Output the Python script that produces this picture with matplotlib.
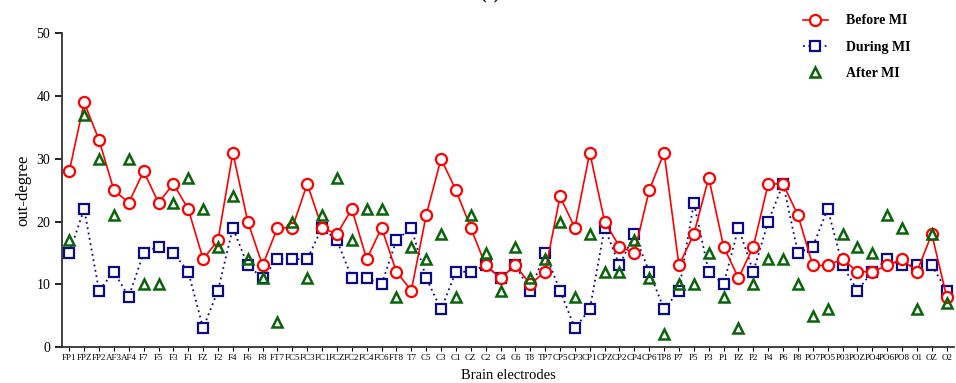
import numpy as np
import matplotlib.pyplot as plt

electrodes = ["FP1", "FPZ", "FP2", "AF3", "AF4", "F7", "F5", "F3", "F1", "FZ",
              "F2", "F4", "F6", "F8", "FT7", "FC5", "FC3", "FC1", "FCZ", "FC2",
              "FC4", "FC6", "FT8", "T7", "C5", "C3", "C1", "CZ", "C2", "C4",
              "C6", "T8", "TP7", "CP5", "CP3", "CP1", "CPZ", "CP2", "CP4", "CP6",
              "TP8", "P7", "P5", "P3", "P1", "PZ", "P2", "P4", "P6", "P8",
              "PO7", "PO5", "P03", "POZ", "PO4", "PO6", "PO8", "O1", "OZ", "O2"]

before_mi = [28, 39, 33, 25, 23, 28, 23, 26, 22, 14,
             17, 31, 20, 13, 19, 19, 26, 19, 18, 22,
             14, 19, 12, 9, 21, 30, 25, 19, 13, 11,
             13, 10, 12, 24, 19, 31, 20, 16, 15, 25,
             31, 13, 18, 27, 16, 11, 16, 26, 26, 21,
             13, 13, 14, 12, 12, 13, 14, 12, 18, 8]

during_mi = [15, 22, 9, 12, 8, 15, 16, 15, 12, 3,
             9, 19, 13, 11, 14, 14, 14, 19, 17, 11,
             11, 10, 17, 19, 11, 6, 12, 12, 13, 11,
             13, 9, 15, 9, 3, 6, 19, 13, 18, 12,
             6, 9, 23, 12, 10, 19, 12, 20, 26, 15,
             16, 22, 13, 9, 12, 14, 13, 13, 13, 9]

after_mi = [17, 37, 30, 21, 30, 10, 10, 23, 27, 22,
            16, 24, 14, 11, 4, 20, 11, 21, 27, 17,
            22, 22, 8, 16, 14, 18, 8, 21, 15, 9,
            16, 11, 14, 20, 8, 18, 12, 12, 17, 11,
            2, 10, 10, 15, 8, 3, 10, 14, 14, 10,
            5, 6, 18, 16, 15, 21, 19, 6, 18, 7]

serif = ["Liberation Serif", "DejaVu Serif"]
plt.rcParams['font.family'] = serif

fig = plt.figure(figsize=(9.56, 3.83), dpi=100)
ax = fig.add_axes([0.065, 0.094, 0.933, 0.819])

x = np.arange(len(electrodes))
ax.plot(x, before_mi, color="red", lw=1.2, marker="o", ms=8,
        mfc="white", mec="red", mew=1.6, label="Before MI", zorder=3)
ax.plot(x, during_mi, color="#0b0b8a", lw=1.3, ls=(0, (1, 2)), marker="s", ms=7.5,
        mfc="white", mec="#0b0b8a", mew=1.6, label="During MI", zorder=2)
ax.plot(x, after_mi, ls="none", marker="^", ms=7.5,
        mfc="none", mec="#0a640a", mew=1.8, label="After MI", zorder=4)

ax.set_xlim(-0.48, 59.5)
ax.set_ylim(0, 50)
ax.set_yticks(np.arange(0, 51, 10))
ax.set_xticks(x)
ax.set_xticklabels(electrodes, fontsize=6.5)
ax.tick_params(axis="y", labelsize=10, length=5, width=1.2, direction="out")
ax.tick_params(axis="x", length=3, width=0.8, direction="out", pad=2)
for s in ["top", "right"]:
    ax.spines[s].set_visible(False)
for s in ["left", "bottom"]:
    ax.spines[s].set_linewidth(1.3)
    ax.spines[s].set_color("#333333")

ax.set_xlabel("Brain electrodes", fontsize=10.5, labelpad=5)
ax.set_ylabel("out-degree", fontsize=12, labelpad=4)

ax.legend(loc="upper right", bbox_to_anchor=(0.965, 1.1), frameon=False,
          prop={"family": serif, "weight": "bold", "size": 10},
          handlelength=1.8, labelspacing=0.95, handletextpad=1.3)

fig.text(0.513, 1.012, "(a)", ha="center", va="center", fontsize=12, fontweight="bold")

fig.savefig("out.png", dpi=100)
